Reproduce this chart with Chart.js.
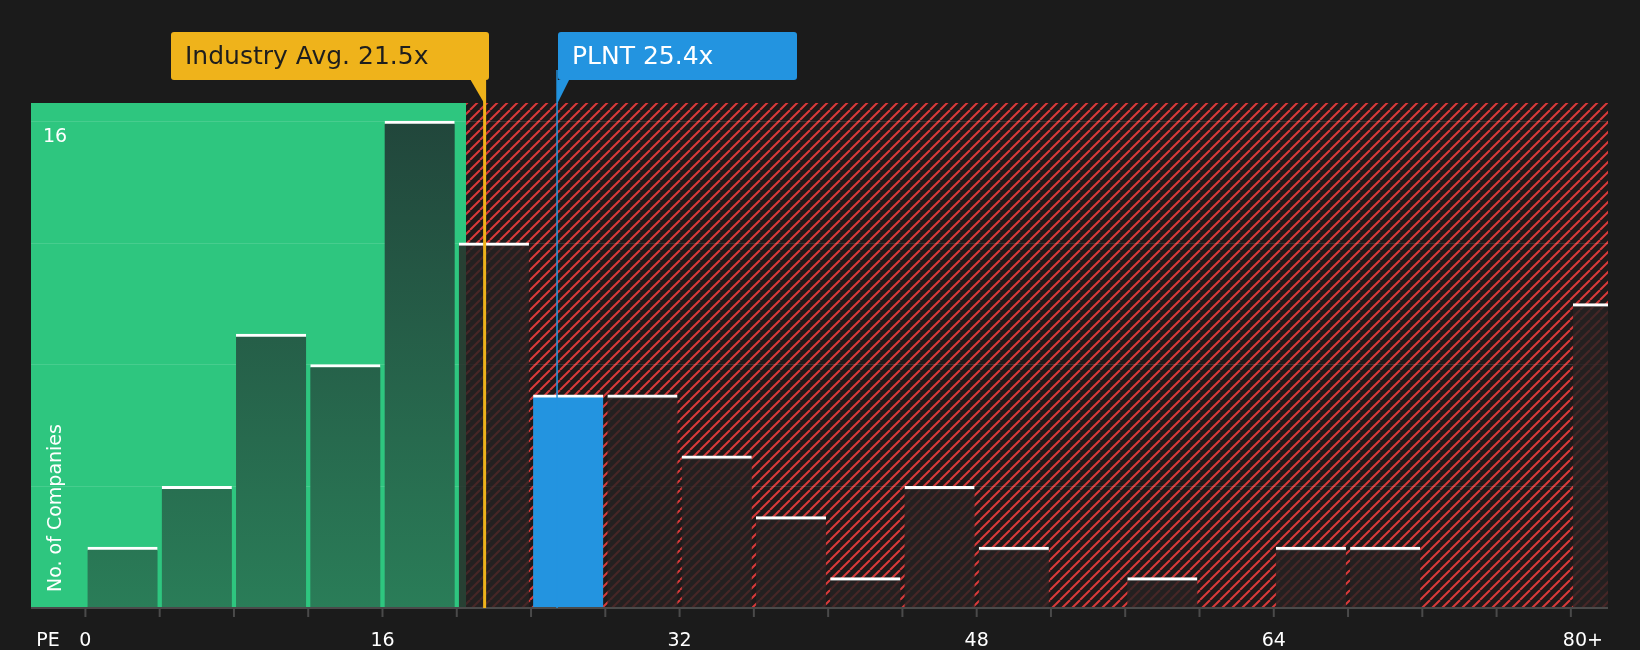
<!DOCTYPE html>
<html lang="en">
<head>
<meta charset="UTF-8">
<title>PE distribution</title>
<script src="https://cdn.jsdelivr.net/npm/chart.js"></script>
<style>
  body { margin: 0; background: #1b1b1b; }
  #wrap { width: 1640px; height: 650px; }
</style>
</head>
<body>
<div id="wrap"><canvas id="peChart" width="1640" height="650"></canvas></div>
<script>
// bins of 4x PE, value = bin centre
const binCenters = [2, 6, 10, 14, 18, 22, 26, 30, 34, 38, 42, 46, 50, 54, 58, 62, 66, 70, 74, 78, 82];
const companyCounts = [2, 4, 9, 8, 16, 12, 7, 7, 5, 3, 1, 4, 2, 0, 1, 0, 2, 2, 0, 0, 10];
const xTickValues = [0, 16, 32, 48, 64, 80];
const xTickLabels = ['0', '16', '32', '48', '64', '80+'];
const yGridValues = [4, 8, 12, 16];
const industryAvg = 21.5;
const companyPE = 25.4;
const fairLimit = 20.5;
const companyBin = 6;

const FONT = '"DejaVu Sans", sans-serif';

// hatch pattern for overvalued zone
function makeHatch() {
    const c = document.createElement('canvas');
    c.width = 10; c.height = 10;
    const g = c.getContext('2d');
    g.fillStyle = '#1e1a1a';
    g.fillRect(0, 0, 10, 10);
    g.strokeStyle = '#d93a3a';
    g.lineWidth = 2;
    for (let k = -10; k <= 20; k += 10) {
        g.beginPath();
        g.moveTo(k, 10);
        g.lineTo(k + 10, 0);
        g.stroke();
    }
    return c;
}

const backgroundZones = {
    id: 'backgroundZones',
    beforeDatasetsDraw(chart) {
        const { ctx, chartArea: a, scales: { x, y } } = chart;
        const split = x.getPixelForValue(fairLimit);
        ctx.save();
        ctx.fillStyle = '#2ec67f';
        ctx.fillRect(a.left, a.top, split - a.left, a.bottom - a.top);
        ctx.fillStyle = ctx.createPattern(makeHatch(), 'repeat');
        ctx.fillRect(split, a.top, a.right - split, a.bottom - a.top);
        // grid
        ctx.strokeStyle = 'rgba(255,255,255,0.12)';
        ctx.lineWidth = 1;
        yGridValues.forEach(v => {
            const py = Math.round(y.getPixelForValue(v)) + 0.5;
            ctx.beginPath(); ctx.moveTo(a.left, py); ctx.lineTo(a.right, py); ctx.stroke();
        });
        ctx.restore();
    },
    afterDatasetsDraw(chart) {
        const { ctx, chartArea: a, scales: { x, y } } = chart;
        ctx.save();
        // axis line + ticks
        ctx.strokeStyle = '#4a4a4a';
        ctx.lineWidth = 2;
        ctx.beginPath(); ctx.moveTo(a.left, a.bottom); ctx.lineTo(a.right, a.bottom); ctx.stroke();
        for (let v = 0; v <= 80; v += 4) {
            const px = x.getPixelForValue(v);
            ctx.beginPath(); ctx.moveTo(px, a.bottom); ctx.lineTo(px, a.bottom + 9); ctx.stroke();
        }
        ctx.fillStyle = '#ffffff';
        ctx.font = '19px ' + FONT;
        ctx.textAlign = 'center';
        ctx.textBaseline = 'middle';
        xTickValues.forEach((v, i) => {
            let px = x.getPixelForValue(v);
            if (i === xTickValues.length - 1) px += 12;
            ctx.fillText(xTickLabels[i], px, 641);
        });
        ctx.fillText('PE', 48, 641);
        ctx.textAlign = 'left';
        ctx.fillText('16', 43, y.getPixelForValue(16) + 16);
        ctx.save();
        ctx.translate(56, a.bottom - 16);
        ctx.rotate(-Math.PI / 2);
        ctx.fillText('No. of Companies', 0, 0);
        ctx.restore();

        // marker lines + labels
        const markers = [
            { v: industryAvg, color: '#efb31b', text: 'Industry Avg. 21.5x', textColor: '#1e1e1e', lw: 3, box: [171, 489], tipRight: true },
            { v: companyPE, color: '#2394e0', text: 'PLNT 25.4x', textColor: '#ffffff', lw: 1.5, box: [558, 797], tipRight: false }
        ];
        markers.forEach(m => {
            const px = x.getPixelForValue(m.v);
            ctx.strokeStyle = m.color;
            ctx.lineWidth = m.lw;
            ctx.beginPath(); ctx.moveTo(px, 70); ctx.lineTo(px, a.bottom); ctx.stroke();
            ctx.fillStyle = m.color;
            ctx.beginPath();
            ctx.roundRect(m.box[0], 32, m.box[1] - m.box[0], 48, 3);
            ctx.fill();
            ctx.beginPath();
            if (m.tipRight) {
                ctx.moveTo(px - 14, 80); ctx.lineTo(px, 80); ctx.lineTo(px, 104);
            } else {
                ctx.moveTo(px, 80); ctx.lineTo(px + 12, 80); ctx.lineTo(px, 104);
            }
            ctx.fill();
            ctx.fillStyle = m.textColor;
            ctx.font = '25px ' + FONT;
            ctx.textAlign = 'left';
            ctx.fillText(m.text, m.box[0] + 14, 57);
        });
        ctx.restore();
    }
};

function barColor(c) {
    const i = c.dataIndex;
    if (i === companyBin) return '#2394e0';
    if (binCenters[i] < fairLimit) {
        const a = c.chart.chartArea;
        if (!a) return '#23473a';
        const g = c.chart.ctx.createLinearGradient(0, a.top, 0, a.bottom);
        g.addColorStop(0, '#21443a');
        g.addColorStop(1, '#2a7d58');
        return g;
    }
    return 'rgba(38,34,34,0.82)';
}

new Chart(document.getElementById('peChart'), {
    type: 'bar',
    data: {
        datasets: [{
            data: binCenters.map((v, i) => ({ x: v, y: companyCounts[i] })),
            backgroundColor: barColor,
            borderColor: c => companyCounts[c.dataIndex] > 0 ? '#ffffff' : 'rgba(0,0,0,0)',
            borderWidth: { top: 3, left: 0, right: 0, bottom: 0 },
            borderSkipped: 'start',
            barThickness: 'flex',
            barPercentage: 1,
            categoryPercentage: 0.944
        }]
    },
    options: {
        responsive: false,
        animation: false,
        layout: { padding: { left: 31, right: 32, top: 103, bottom: 42 } },
        plugins: { legend: { display: false }, tooltip: { enabled: false } },
        scales: {
            x: { type: 'linear', min: -2.93, max: 82, offset: false, display: false },
            y: { min: 0, max: 16.59, display: false }
        }
    },
    plugins: [backgroundZones]
});
</script>
</body>
</html>
